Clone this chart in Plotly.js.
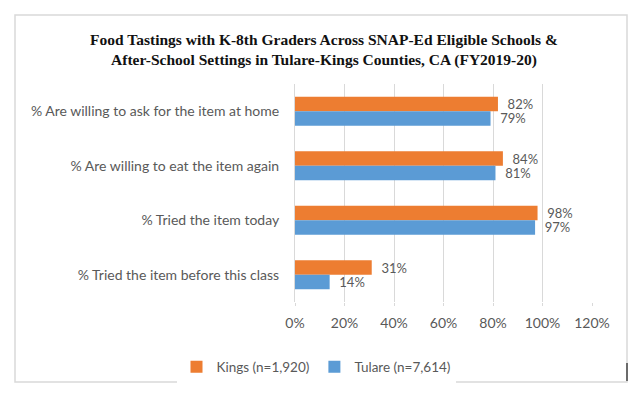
<!DOCTYPE html>
<html>
<head>
<meta charset="utf-8">
<script src="https://cdn.plot.ly/plotly-3.0.1.min.js"></script>
<style>html,body{margin:0;padding:0;background:#fff;}#chart{width:640px;height:393px;}</style>
</head>
<body>
<div id="chart"></div>
<script>
const categories = [
  "% Are willing to ask for the item at home",
  "% Are willing to eat the item again",
  "% Tried the item today",
  "% Tried the item before this class"
];
const kingsValues = [82, 84, 98, 31];
const tulareValues = [79, 81, 97, 14];
const seriesNames = ["Kings (n=1,920)", "Tulare (n=7,614)"];
const tickValues = [0, 20, 40, 60, 80, 100, 120];
const tickLabels = ["0%", "20%", "40%", "60%", "80%", "100%", "120%"];

const FONT = "Lato, 'Open Sans', sans-serif";
const GREY = "#595959";
const pad = "\u00a0\u00a0";

const traces = [
  {
    type: "bar", orientation: "h", name: seriesNames[0],
    y: categories, x: kingsValues,
    marker: {color: "#ED7D31"},
    text: kingsValues.map(v => pad + v + "%"),
    textposition: "outside", cliponaxis: false, constraintext: "none",
    textfont: {family: FONT, size: 13, color: GREY},
    hoverinfo: "skip"
  },
  {
    type: "bar", orientation: "h", name: seriesNames[1],
    y: categories, x: tulareValues,
    marker: {color: "#5B9BD5"},
    text: tulareValues.map(v => pad + v + "%"),
    textposition: "outside", cliponaxis: false, constraintext: "none",
    textfont: {family: FONT, size: 13, color: GREY},
    hoverinfo: "skip"
  }
];

const layout = {
  width: 640, height: 393,
  margin: {l: 295, r: 48, t: 84, b: 91},
  paper_bgcolor: "#fff", plot_bgcolor: "#fff",
  font: {family: FONT, size: 14, color: GREY},
  title: {
    text: "<b>Food Tastings with K-8th Graders Across SNAP-Ed Eligible Schools &<br>After-School Settings in Tulare-Kings Counties, CA (FY2019-20)</b>",
    font: {family: "'Liberation Serif', 'Times New Roman', serif", size: 15.5, color: "#111"},
    x: 324/640, xanchor: "center", xref: "container",
    y: 1 - 45/393, yanchor: "middle", yref: "container"
  },
  barmode: "group", bargap: 0.47, bargroupgap: 0,
  xaxis: {
    range: [0, 120], tickvals: tickValues, ticktext: tickLabels,
    showgrid: true, gridcolor: "#d9d9d9", gridwidth: 1,
    zeroline: false, showline: false,
    ticks: "outside", ticklen: 3, tickcolor: "#d9d9d9",
    ticklabelstandoff: 5,
    tickfont: {family: FONT, size: 14, color: GREY},
    fixedrange: true
  },
  yaxis: {
    autorange: "reversed", showgrid: false, zeroline: false,
    showline: true, linecolor: "#d9d9d9", linewidth: 1,
    ticks: "", ticklabelstandoff: 12,
    tickfont: {family: FONT, size: 14, color: GREY},
    fixedrange: true
  },
  showlegend: true,
  legend: {
    orientation: "h", xref: "container", yref: "container",
    x: 316/640, xanchor: "center", y: 1 - 367/393, yanchor: "middle",
    font: {family: FONT, size: 13.5, color: GREY},
    itemwidth: 30
  },
  shapes: [
    {type: "rect", xref: "paper", yref: "paper",
     x0: (15-295)/297, x1: (627-295)/297, y0: (302-382)/218, y1: (302-15)/218,
     line: {color: "#d9d9d9", width: 1.5}, layer: "below"},
    {type: "line", xref: "paper", yref: "paper",
     x0: (627-295)/297, x1: (627-295)/297, y0: (302-381)/218, y1: (302-363)/218,
     line: {color: "#6b6b6b", width: 2}}
  ]
};

Plotly.newPlot("chart", traces, layout, {displayModeBar: false, staticPlot: true});
</script>
</body>
</html>
